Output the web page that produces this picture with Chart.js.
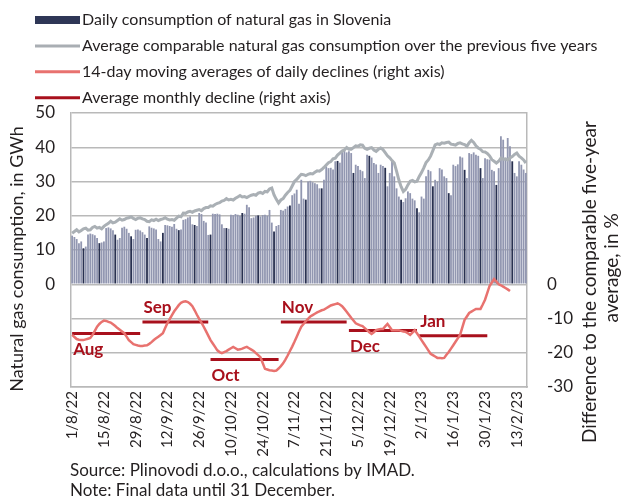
<!DOCTYPE html>
<html>
<head>
<meta charset="utf-8">
<script src="https://cdn.jsdelivr.net/npm/chart.js@4.4.0/dist/chart.umd.min.js"></script>
<style>
  body { margin: 0; background: #fff; }
  #wrap { width: 625px; height: 501px; position: relative; }
</style>
</head>
<body>
<div id="wrap"><canvas id="gasChart"></canvas></div>
<script>
// tick labels shown on the x axis (every 14 days)
const tickLabels = ['1/8/22', '15/8/22', '29/8/22', '12/9/22', '26/9/22', '10/10/22', '24/10/22',
  '7/11/22', '21/11/22', '5/12/22', '19/12/22', '2/1/23', '16/1/23', '30/1/23', '13/2/23'];

// daily consumption, GWh (1 Aug 2022 - 17 Feb 2023)
const consumption = [
  14.2, 13.8, 13.2, 12.0, 12.5, 10.5, 11.0, 14.5, 14.8, 14.6,
  14.3, 13.5, 12.0, 12.2, 12.5, 16.4, 16.6, 16.3, 15.8, 14.5,
  13.0, 13.5, 16.5, 16.8, 16.2, 15.0, 14.0, 13.2, 15.9, 16.0,
  15.7, 15.2, 14.5, 13.5, 16.9, 16.5, 16.3, 16.0, 13.2, 12.5,
  15.0, 17.3, 17.2, 17.0, 16.8, 17.6, 16.2, 15.8, 16.0, 18.8,
  19.0, 19.5, 19.8, 17.5, 17.3, 17.0, 20.8, 20.5, 18.5, 18.0,
  14.4, 14.5, 20.6, 20.5, 20.6, 20.4, 17.5, 16.4, 16.4, 16.2,
  20.3, 20.2, 20.5, 20.3, 20.0, 20.8, 20.6, 23.2, 22.5, 19.3,
  19.5, 20.0, 20.1, 19.8, 20.2, 20.3, 20.0, 21.7, 18.0, 15.4,
  17.0, 17.3, 21.7, 21.5, 22.0, 22.7, 23.0, 26.0, 26.5, 27.6,
  23.5, 30.5, 25.0, 24.7, 30.0, 30.2, 29.8, 29.5, 29.2, 28.0,
  28.0, 30.5, 34.4, 33.9, 34.0, 33.5, 35.9, 36.0, 35.5, 38.8,
  39.0, 38.5, 38.8, 38.3, 32.5, 34.9, 34.5, 33.4, 33.0, 31.0,
  37.8, 37.5, 37.0, 35.4, 35.0, 32.5, 34.9, 34.5, 34.0, 28.6,
  32.5, 35.9, 31.5, 28.0, 25.6, 24.7, 24.0, 25.1, 27.1, 26.6,
  25.0, 24.5, 22.2, 21.0, 25.6, 25.0, 31.5, 33.4, 33.0, 28.6,
  30.5, 30.0, 33.9, 33.5, 31.5, 31.0, 26.6, 26.0, 34.9, 34.5,
  35.0, 37.3, 37.0, 33.4, 31.0, 38.3, 38.0, 38.5, 37.8, 37.5,
  33.9, 31.0, 36.8, 36.5, 36.4, 33.4, 33.0, 29.0, 33.9, 43.2,
  42.2, 36.4, 42.7, 40.3, 35.9, 32.5, 31.5, 35.9, 34.9, 33.5, 32.5
];

// average comparable consumption of the previous five years, GWh
const fiveYearAvg = [
  14.9, 15.4, 15.9, 15.3, 15.7, 16.2, 16.4, 15.8, 15.9, 16.6,
  16.9, 16.4, 16.6, 16.2, 16.9, 17.4, 17.8, 18.4, 17.9, 18.1,
  18.6, 19.1, 18.7, 18.9, 19.3, 19.4, 19.7, 19.2, 18.9, 19.3,
  19.4, 19.1, 18.9, 18.4, 18.3, 18.8, 18.6, 19.0, 18.6, 18.9,
  19.1, 19.4, 19.0, 18.8, 18.9, 18.7, 19.3, 19.9, 19.7, 20.8,
  20.7, 21.1, 21.3, 21.0, 21.4, 21.6, 21.8, 21.5, 22.1, 22.4,
  22.4, 22.9, 22.8, 23.3, 23.6, 23.8, 24.3, 24.5, 25.0, 24.6,
  24.8, 24.6, 25.1, 25.5, 25.9, 25.5, 25.6, 25.3, 25.7, 26.0,
  26.2, 26.0, 26.6, 26.8, 26.5, 27.1, 27.0, 27.8, 28.1, 26.1,
  24.8, 23.7, 24.6, 25.0, 26.0, 26.8, 27.4, 28.7, 30.0, 30.6,
  31.4, 32.1, 32.0, 31.7, 32.1, 32.3, 32.2, 32.7, 33.1, 33.0,
  33.5, 34.1, 34.8, 35.5, 35.8, 36.6, 36.8, 37.7, 38.3, 38.9,
  39.2, 39.9, 39.4, 39.4, 39.9, 40.4, 40.3, 40.7, 40.6, 39.7,
  39.4, 39.7, 39.9, 39.2, 38.8, 39.4, 39.8, 39.3, 38.4, 37.5,
  36.9, 36.1, 35.4, 33.0, 30.5, 28.5, 27.1, 27.7, 29.0, 30.1,
  30.3, 29.9, 30.1, 31.5, 32.6, 34.0, 35.5, 36.3, 37.4, 39.0,
  40.7, 41.0, 40.8, 41.3, 41.2, 41.4, 41.5, 40.9, 40.8, 40.6,
  41.1, 41.3, 41.0, 40.8, 40.3, 41.3, 42.0, 41.4, 40.4, 39.8,
  39.4, 38.7, 38.6, 38.2, 37.5, 36.4, 35.9, 35.4, 35.9, 36.8,
  36.5, 36.6, 36.3, 36.9, 37.3, 37.9, 38.3, 37.4, 36.9, 36.3, 35.4
];

// 14-day moving average of daily declines, % (right axis)
const movingDecline = [
  -14.8, -15.4, -16.0, -16.2, -16.3, -16.3, -16.1, -15.9, -15.7, -14.8,
  -13.6, -12.4, -11.6, -11.0, -10.6, -10.7, -11.0, -11.2, -11.7, -12.2,
  -12.8, -13.3, -13.8, -14.3, -15.3, -16.3, -16.9, -17.5, -17.7, -17.9,
  -18.0, -18.0, -17.9, -17.8, -17.4, -16.9, -16.3, -15.8, -15.3, -14.8,
  -14.3, -12.8, -11.3, -10.2, -9.0, -7.9, -7.0, -6.1, -5.4, -5.1,
  -5.0, -5.2, -5.7, -6.4, -7.6, -8.9, -10.1, -11.2, -12.4, -13.7,
  -15.0, -16.3, -17.3, -18.3, -19.3, -19.8, -20.1, -19.8, -19.5, -19.1,
  -18.7, -18.3, -18.7, -19.1, -19.0, -18.8, -18.5, -18.3, -18.7, -19.1,
  -19.5, -20.1, -20.7, -21.3, -23.0, -24.7, -24.9, -25.1, -25.2, -25.3,
  -25.2, -24.6, -23.9, -23.1, -22.0, -20.8, -19.5, -18.2, -16.8, -15.3,
  -13.8, -12.4, -11.6, -10.8, -10.1, -9.4, -9.0, -8.6, -8.2, -7.9,
  -7.6, -7.4, -7.0, -6.6, -6.2, -6.0, -5.8, -5.6, -5.9, -6.4,
  -7.2, -8.0, -8.9, -9.8, -10.6, -11.4, -11.7, -12.0, -12.2, -12.8,
  -13.4, -14.0, -14.5, -14.0, -13.4, -13.2, -13.1, -13.1, -12.3, -11.6,
  -12.5, -13.4, -13.4, -13.4, -13.4, -13.6, -13.8, -13.9, -14.3, -14.8,
  -14.1, -13.4, -14.3, -15.3, -16.3, -17.3, -18.3, -19.3, -20.3, -20.7,
  -21.1, -21.5, -21.5, -21.6, -21.5, -20.6, -19.8, -18.8, -17.8, -16.8,
  -15.8, -14.8, -12.6, -10.4, -9.4, -8.4, -8.0, -7.6, -7.2, -7.2,
  -7.2, -5.9, -4.5, -2.5, -0.5, 0.5, 1.5, 0.8, 0.0, -0.3,
  -0.7, -1.1, -1.5, -2.0
];

// average monthly decline, % (right axis)
const monthNames = ['Aug', 'Sep', 'Oct', 'Nov', 'Dec', 'Jan'];
const monthlyDecline = [-14.4, -11.0, -22.0, -11.0, -13.5, -15.0];
const monthLabelAbove = [false, true, false, true, false, true];

// day labels for the category axis
const days = [];
for (let i = 0; i < consumption.length; i++) {
  const d = new Date(2022, 7, 1 + i);
  days.push({ label: d.getDate() + '/' + (d.getMonth() + 1) + '/' + String(d.getFullYear()).slice(2), month: d.getMonth() });
}
const dayLabels = days.map(d => d.label);
const monthIdx = [7, 8, 9, 10, 11, 0];

const monthSets = monthlyDecline.map((v, m) => ({
  type: 'line',
  label: 'Average monthly decline (right axis)',
  data: days.map(d => d.month === monthIdx[m] ? v : null),
  yAxisID: 'y2',
  borderColor: '#a8101c',
  borderWidth: 3,
  pointRadius: 0,
  spanGaps: false,
  order: 1
}));

const FONT = 'Lato';
const TXT = '#231f20';

const legendItems = [
  { kind: 'bar', color: '#2e3656', text: 'Daily consumption of natural gas in Slovenia' },
  { kind: 'line', color: '#a9aeb3', text: 'Average comparable natural gas consumption over the previous five years' },
  { kind: 'line', color: '#e8726f', text: '14-day moving averages of daily declines (right axis)' },
  { kind: 'line', color: '#a8101c', text: 'Average monthly decline (right axis)' }
];

const extras = {
  id: 'extras',
  afterDatasetsDraw(chart) {
    const ctx = chart.ctx;
    const xs = chart.scales.x, y2 = chart.scales.y2;
    ctx.save();
    ctx.fillStyle = '#a8101c';
    ctx.font = 'bold 17px ' + FONT;
    ctx.textBaseline = 'middle';
    ctx.textAlign = 'left';
    monthNames.forEach((name, m) => {
      const first = days.findIndex(d => d.month === monthIdx[m]);
      const x = xs.getPixelForValue(first) + 1;
      const y = y2.getPixelForValue(monthlyDecline[m]) + (monthLabelAbove[m] ? -14 : 16);
      ctx.fillText(name, x, y);
    });
    ctx.restore();
  },
  afterDraw(chart) {
    const ctx = chart.ctx;
    ctx.save();
    // legend
    ctx.font = '16px ' + FONT;
    ctx.textBaseline = 'middle';
    ctx.textAlign = 'left';
    legendItems.forEach((it, i) => {
      const y = 20 + i * 25.9;
      if (it.kind === 'bar') {
        ctx.fillStyle = it.color;
        ctx.fillRect(35, y - 4, 45, 8);
      } else {
        ctx.strokeStyle = it.color;
        ctx.lineWidth = 3;
        ctx.beginPath();
        ctx.moveTo(35, y);
        ctx.lineTo(80, y);
        ctx.stroke();
      }
      ctx.fillStyle = TXT;
      ctx.fillText(it.text, 82, y);
    });
    // axis titles
    ctx.font = '18px ' + FONT;
    ctx.textAlign = 'center';
    ctx.save();
    ctx.translate(17, 259);
    ctx.rotate(-Math.PI / 2);
    ctx.fillText('Natural gas consumption, in GWh', 0, 0);
    ctx.restore();
    ctx.font = '19px ' + FONT;
    ctx.save();
    ctx.translate(590, 282);
    ctx.rotate(-Math.PI / 2);
    ctx.fillText('Difference to the comparable five-year', 0, 0);
    ctx.restore();
    ctx.save();
    ctx.translate(612, 268);
    ctx.rotate(-Math.PI / 2);
    ctx.fillText('average, in %', 0, 0);
    ctx.restore();
    // source and note
    ctx.font = '17px ' + FONT;
    ctx.textAlign = 'left';
    ctx.fillText('Source: Plinovodi d.o.o., calculations by IMAD.', 70, 471);
    ctx.fillText('Note: Final data until 31 December.', 70, 491);
    ctx.restore();
  }
};

new Chart(document.getElementById('gasChart'), {
  data: {
    labels: dayLabels,
    datasets: [
      {
        type: 'line',
        label: 'Average comparable natural gas consumption over the previous five years',
        data: fiveYearAvg,
        yAxisID: 'y',
        borderColor: '#aab0b5',
        borderWidth: 3,
        pointRadius: 0,
        order: 2
      },
      {
        type: 'line',
        label: '14-day moving averages of daily declines (right axis)',
        data: movingDecline,
        yAxisID: 'y2',
        borderColor: '#e8726f',
        borderWidth: 2.5,
        pointRadius: 0,
        order: 1
      },
      ...monthSets,
      {
        type: 'bar',
        label: 'Daily consumption of natural gas in Slovenia',
        data: consumption,
        yAxisID: 'y',
        backgroundColor: c => c.dataIndex % 7 === 5 ? '#283050' : '#9297b1',
        barPercentage: 1,
        categoryPercentage: 0.8,
        order: 10
      }
    ]
  },
  options: {
    responsive: true,
    maintainAspectRatio: false,
    animation: false,
    layout: { padding: { top: 113, left: 0, right: 0, bottom: 0 } },
    plugins: { legend: { display: false }, tooltip: { enabled: false } },
    scales: {
      x: {
        type: 'category',
        afterFit: s => { s.height = 114; },
        grid: { display: false, drawTicks: false },
        border: { color: '#b9b9b9', width: 1.5 },
        ticks: {
          autoSkip: false,
          maxRotation: 90,
          minRotation: 90,
          padding: 4,
          color: TXT,
          font: { family: FONT, size: 15 },
          callback: (v, i) => tickLabels.includes(dayLabels[i]) ? dayLabels[i] : ''
        }
      },
      y: {
        position: 'left',
        min: -30,
        max: 50,
        afterFit: s => { s.width = 71; },
        grid: { color: '#b9b9b9', lineWidth: 1.5, drawTicks: false },
        border: { color: '#b9b9b9', width: 1.5 },
        ticks: {
          stepSize: 10,
          padding: 16,
          color: TXT,
          font: { family: FONT, size: 17 },
          callback: v => v >= 0 ? v : ''
        }
      },
      y2: {
        position: 'right',
        min: -30,
        max: 50,
        afterFit: s => { s.width = 98; },
        grid: { display: false, drawTicks: false },
        border: { color: '#b9b9b9', width: 1.5 },
        ticks: {
          stepSize: 10,
          padding: 20,
          color: TXT,
          font: { family: FONT, size: 17 },
          callback: v => v <= 0 ? v : ''
        }
      }
    }
  },
  plugins: [extras]
});
</script>
</body>
</html>
